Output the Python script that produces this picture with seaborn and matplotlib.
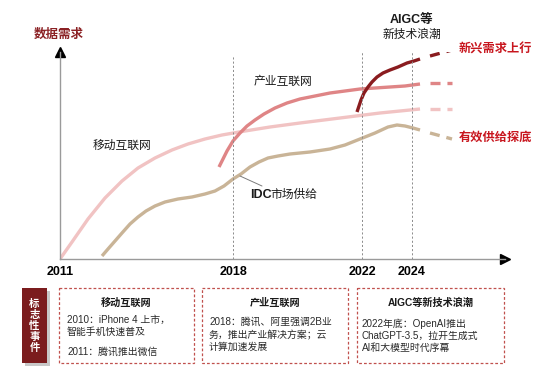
import numpy as np
import pandas as pd
import matplotlib
matplotlib.use("Agg")
import matplotlib.pyplot as plt
from matplotlib.patches import Rectangle
import seaborn as sns

# ---------------- data (timeline position, demand level) ----------------
years = ["2011", "2018", "2022", "2024"]
year_pos = [0, 17.3, 30.2, 35.2]

mobile_t = [0, 1.2, 2.8, 4.5, 6.2, 7.8, 9.5, 11.2, 12.8, 14.5, 16.2, 18.5, 21.0, 24.0, 28.0, 32.0, 36.0]
mobile_v = [0, 1.7, 4.0, 6.1, 7.8, 9.1, 10.1, 10.9, 11.5, 12.0, 12.4, 12.8, 13.2, 13.6, 14.1, 14.6, 15.0]
mobile_proj_t = [37, 39.2]
mobile_proj_v = [15.0, 15.0]

industry_t = [15.9, 16.3, 16.7, 17.3, 18.0, 18.7, 19.5, 20.4, 21.5, 22.7, 24.0, 25.5, 27.0, 28.5,
              30.0, 31.5, 33.0, 34.5, 36.0]
industry_v = [9.2, 10.0, 10.8, 11.8, 12.6, 13.3, 13.9, 14.5, 15.1, 15.6, 16.0, 16.3, 16.6, 16.8,
              17.0, 17.1, 17.2, 17.3, 17.5]
industry_proj_t = [37, 39.2]
industry_proj_v = [17.6, 17.6]

aigc_t = [29.7, 29.9, 30.1, 30.4, 30.8, 31.2, 31.7, 32.3, 33.0, 33.8, 34.7, 35.4, 36.0]
aigc_v = [14.7, 15.3, 15.9, 16.6, 17.2, 17.7, 18.2, 18.6, 18.9, 19.2, 19.6, 19.8, 20.0]
aigc_proj_t = [37, 39.2]
aigc_proj_v = [20.3, 20.9]

idc_t = [4.2, 4.8, 5.5, 6.2, 7.0, 7.8, 8.6, 9.5, 10.5, 11.8, 13.2, 14.5, 15.5, 16.4, 17.3, 18.1,
         19.0, 19.9, 20.8, 21.8, 23.0, 25.0, 27.0, 28.5, 30.0, 31.5, 32.8, 33.7, 34.5, 35.3, 36.0]
idc_v = [0.3, 1.0, 1.8, 2.6, 3.5, 4.2, 4.8, 5.3, 5.7, 6.0, 6.2, 6.5, 6.8, 7.3, 8.0, 8.5,
         9.2, 9.7, 10.1, 10.3, 10.5, 10.7, 11.0, 11.4, 12.0, 12.6, 13.2, 13.4, 13.3, 13.1, 12.9]
idc_proj_t = [37, 39.2]
idc_proj_v = [12.6, 12.0]

box_titles = ["移动互联网", "产业互联网", "AIGC等新技术浪潮"]
box_lines = [
    ["2010：iPhone 4 上市，", "智能手机快速普及", "2011：腾讯推出微信"],
    ["2018：腾讯、阿里强调2B业", "务，推出产业解决方案；云", "计算加速发展"],
    ["2022年底：OpenAI推出", "ChatGPT-3.5，拉开生成式", "AI和大模型时代序幕"],
]

# ---------------- style ----------------
sns.set_theme(style="white")
plt.rcParams["font.family"] = ["Liberation Sans", "Noto Sans CJK SC", "DejaVu Sans"]
plt.rcParams["lines.scale_dashes"] = False

C_MOBILE = "#f1c3c3"
C_IND = "#df8586"
C_AIGC = "#8a1c1f"
C_IDC = "#c9b497"
C_RED = "#c8161e"
C_DARKRED = "#8b2124"
C_TXT = "#1a1a1a"

W, H = 554, 379
fig = plt.figure(figsize=(W / 100, H / 100), dpi=100)
fig.patch.set_facecolor("white")

ax = fig.add_axes([60 / W, (H - 259) / H, 445 / W, 207 / H])
ax.set_xlim(0, 44.5)
ax.set_ylim(0, 20.7)
ax.set_facecolor("none")

LW = 2.4
PROJ = (0, (7.2, 5.0))
series = [
    (mobile_t, mobile_v, mobile_proj_t, mobile_proj_v, C_MOBILE),
    (industry_t, industry_v, industry_proj_t, industry_proj_v, C_IND),
    (idc_t, idc_v, idc_proj_t, idc_proj_v, C_IDC),
    (aigc_t, aigc_v, aigc_proj_t, aigc_proj_v, C_AIGC),
]
for t, v, pt, pv, c in series:
    df = pd.DataFrame({"t": t, "v": v})
    sns.lineplot(data=df, x="t", y="v", ax=ax, color=c, linewidth=LW, sort=False,
                 estimator=None, solid_capstyle="butt", solid_joinstyle="round")
    ax.plot(pt, pv, color=c, linewidth=LW, linestyle=PROJ, dash_capstyle="butt")

# vertical dotted guides
ax.vlines([year_pos[1]], 0, 20.3, colors="#8c8c8c", linewidth=0.7, linestyles=(0, (1.5, 1.5)))
ax.vlines(year_pos[2:], 0, 20.7, colors="#8c8c8c", linewidth=0.7, linestyles=(0, (1.5, 1.5)))

for s in ["top", "right"]:
    ax.spines[s].set_visible(False)
for s in ["left", "bottom"]:
    ax.spines[s].set_color("#9a9a9a")
    ax.spines[s].set_linewidth(1.0)
ax.plot([0], [20.7], marker="^", markersize=7, color="black", clip_on=False)
ax.plot([44.5], [0], marker=">", markersize=7, color="black", clip_on=False)

ax.set_xticks(year_pos)
ax.set_xticklabels(years, fontsize=9, fontweight="bold", color="black")
ax.set_yticks([])
ax.tick_params(axis="x", length=0, pad=5)
ax.set_xlabel("")
ax.set_ylabel("")

# ---------------- overlay in pixel coordinates ----------------
ov = fig.add_axes([0, 0, 1, 1])
ov.set_xlim(0, W)
ov.set_ylim(H, 0)
ov.axis("off")
ov.set_facecolor("none")

ov.text(59, 35, "数据需求", fontsize=9, fontweight="bold", color=C_DARKRED, ha="center", va="center")
ov.text(283, 82, "产业互联网", fontsize=8.5, color=C_TXT, ha="center", va="center")
ov.text(122, 146, "移动互联网", fontsize=8.5, color=C_TXT, ha="center", va="center")
ov.text(250, 195, "IDC", fontsize=9, fontweight="bold", color=C_TXT, ha="left", va="center")
ov.text(270, 195, "市场供给", fontsize=8.5, color=C_TXT, ha="left", va="center")
ov.plot([240, 262], [176, 186], color="#7a7a7a", linewidth=0.7)
ov.text(411, 20, "AIGC等", fontsize=9, fontweight="bold", color=C_TXT, ha="center", va="center")
ov.text(412, 35, "新技术浪潮", fontsize=8.5, color=C_TXT, ha="center", va="center")
ov.text(459, 50, "新兴需求上行", fontsize=8.8, fontweight="bold", color=C_RED, ha="left", va="center")
ov.text(459, 138, "有效供给探底", fontsize=8.8, fontweight="bold", color=C_RED, ha="left", va="center")

# marker box
ov.add_patch(Rectangle((24.5, 290.5), 25, 75, facecolor="#c8c8c8", edgecolor="none"))
ov.add_patch(Rectangle((22, 288), 25, 75, facecolor="#7b1c1e", edgecolor="none"))
ov.text(34.5, 326, "标\n志\n性\n事\n件", fontsize=7.5, color="white", ha="center", va="center",
        linespacing=1.15, fontweight="bold")

boxes = [(59, 194), (202, 348), (357, 504)]
line_y = [[320, 332, 352], [322, 335, 347], [324, 336, 348]]
left_x = [67, 209, 362]
for (x0, x1), title, lines, ys, lx in zip(boxes, box_titles, box_lines, line_y, left_x):
    ov.add_patch(Rectangle((x0, 288), x1 - x0, 75, facecolor="none", edgecolor="#c0504d",
                           linewidth=0.9, linestyle=(0, (2.0, 1.5))))
    ov.text((x0 + x1) / 2, 303, title, fontsize=7.3, fontweight="bold", color=C_TXT,
            ha="center", va="center")
    for ln, y in zip(lines, ys):
        ov.text(lx, y, ln, fontsize=7.1, color="#2a2a2a", ha="left", va="center")

fig.savefig("out.png", dpi=100, facecolor="white")
